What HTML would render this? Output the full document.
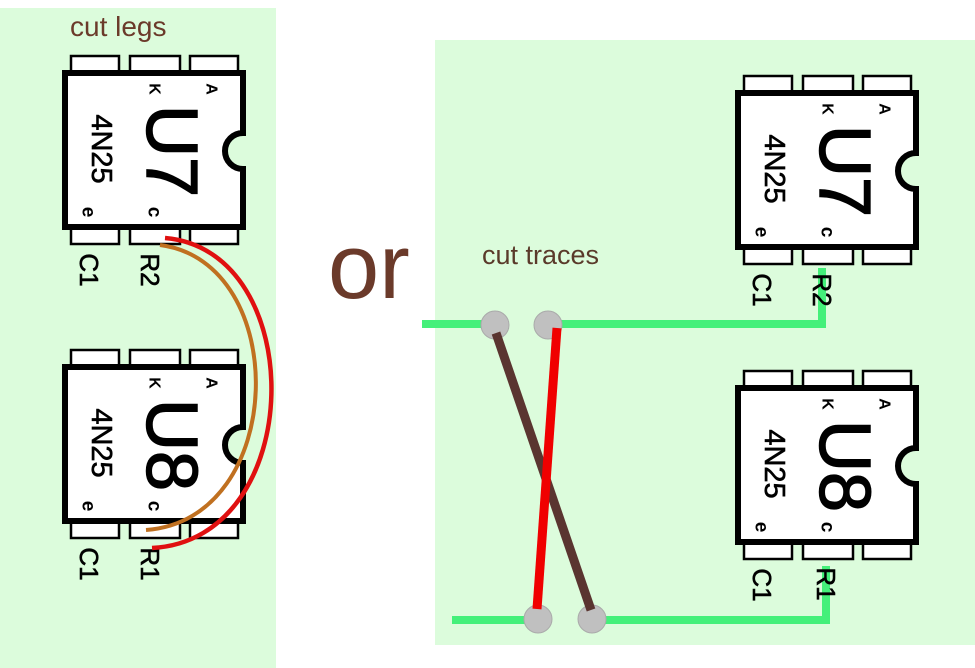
<!DOCTYPE html>
<html><head><meta charset="utf-8"><style>
html,body{margin:0;padding:0;background:#fff;}
svg{display:block;}
text{font-family:"Liberation Sans",sans-serif;}
</style></head><body>
<svg width="975" height="668" viewBox="0 0 975 668" xmlns="http://www.w3.org/2000/svg">
<defs>
<g id="base">
  <rect x="8" y="-15" width="48" height="17" fill="#fff" stroke="#000" stroke-width="2.5"/>
  <rect x="67" y="-15" width="50" height="17" fill="#fff" stroke="#000" stroke-width="2.5"/>
  <rect x="127" y="-15" width="48" height="17" fill="#fff" stroke="#000" stroke-width="2.5"/>
  <rect x="8" y="156" width="48" height="17" fill="#fff" stroke="#000" stroke-width="2.5"/>
  <rect x="67" y="156" width="50" height="17" fill="#fff" stroke="#000" stroke-width="2.5"/>
  <rect x="127" y="156" width="48" height="17" fill="#fff" stroke="#000" stroke-width="2.5"/>
  <path d="M2,2 H180 V62 A18,18 0 0 0 180,98 V156 H2 Z" fill="#fff" stroke="#000" stroke-width="6"/>
  <text transform="translate(38,78) rotate(90)" font-size="29" text-anchor="middle" dominant-baseline="central" fill="#000" stroke="#000" stroke-width="0.6">4N25</text>
  <text transform="translate(91,18) rotate(90)" font-size="16" font-weight="bold" text-anchor="middle" dominant-baseline="central">K</text>
  <text transform="translate(148,18) rotate(90)" font-size="16" font-weight="bold" text-anchor="middle" dominant-baseline="central">A</text>
  <text transform="translate(25,141) rotate(90)" font-size="19" font-weight="bold" text-anchor="middle" dominant-baseline="central">e</text>
  <text transform="translate(91,141) rotate(90)" font-size="19" font-weight="bold" text-anchor="middle" dominant-baseline="central">c</text>
  <text transform="translate(26,199) rotate(90)" font-size="26" text-anchor="middle" dominant-baseline="central" stroke="#000" stroke-width="0.6">C1</text>
</g>
<g id="chip">
  <use href="#base"/>
  <text transform="translate(108,80) rotate(90)" font-size="72" text-anchor="middle" dominant-baseline="central" fill="#000" stroke="#000" stroke-width="1.5">U7</text>
</g>
<g id="chip8">
  <use href="#base"/>
  <text transform="translate(108,80) rotate(90)" font-size="72" text-anchor="middle" dominant-baseline="central" fill="#000" stroke="#000" stroke-width="1.5">U8</text>
</g>
</defs>
<rect x="0" y="8" width="276" height="660" fill="#dcfcdc"/>
<rect x="435" y="40" width="540" height="605" fill="#dcfcdc"/>

<text x="70" y="36" font-size="28" fill="#6b3a2a">cut legs</text>
<text x="328" y="298" font-size="92" fill="#6b3a2a">or</text>
<text x="482" y="264" font-size="27" fill="#5a3a2a">cut traces</text>

<use href="#chip" x="63" y="71"/>
<use href="#chip8" x="63" y="365"/>
<use href="#chip" x="736" y="91"/>
<use href="#chip8" x="736" y="386"/>

<text transform="translate(150,270) rotate(90)" font-size="26" text-anchor="middle" dominant-baseline="central" stroke="#000" stroke-width="0.6">R2</text>
<text transform="translate(150,564) rotate(90)" font-size="26" text-anchor="middle" dominant-baseline="central" stroke="#000" stroke-width="0.6">R1</text>

<!-- left wires -->
<path d="M160,245 C292,262 288,520 146,530" fill="none" stroke="#c07020" stroke-width="4"/>
<path d="M165,238 C310,250 308,540 152,548" fill="none" stroke="#e01010" stroke-width="4.5"/>

<!-- right traces -->
<g stroke="#44f07a" stroke-width="8" fill="none">
<path d="M422,324 H495"/>
<path d="M548,324 H822 V268"/>
<path d="M452,620 H538"/>
<path d="M592,620 H826 V566"/>
</g>
<text transform="translate(822,290) rotate(90)" font-size="26" text-anchor="middle" dominant-baseline="central" stroke="#000" stroke-width="0.6">R2</text>
<text transform="translate(826,584) rotate(90)" font-size="26" text-anchor="middle" dominant-baseline="central" stroke="#000" stroke-width="0.6">R1</text>
<circle cx="495" cy="325" r="14" fill="#c0c0c0" stroke="#aaa"/>
<circle cx="548" cy="325" r="14" fill="#c0c0c0" stroke="#aaa"/>
<circle cx="538" cy="619" r="14" fill="#c0c0c0" stroke="#aaa"/>
<circle cx="592" cy="619" r="14" fill="#c0c0c0" stroke="#aaa"/>
<line x1="496" y1="333" x2="591" y2="610" stroke="#5a3530" stroke-width="9"/>
<line x1="557" y1="328" x2="537" y2="609" stroke="#f00000" stroke-width="9"/>
</svg>
</body></html>
